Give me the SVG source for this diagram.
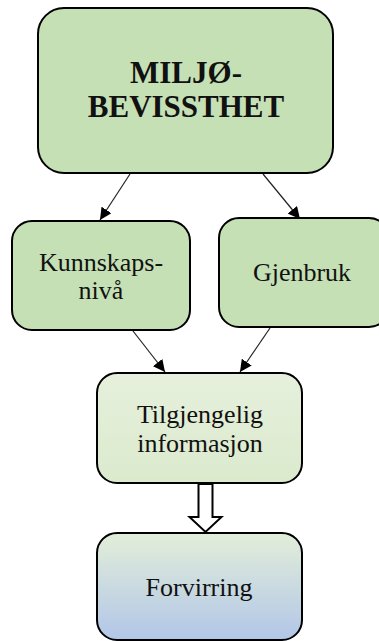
<svg xmlns="http://www.w3.org/2000/svg" width="379" height="641" viewBox="0 0 379 641">
<style>
.box{stroke:#000;stroke-width:2}
.g{fill:#c5e0b4}
.t{font-family:"Liberation Serif","Times New Roman",serif;fill:#111;text-anchor:middle}
.b{font-weight:bold;font-size:31px}
.r{font-size:26px}
.c{stroke:#222;stroke-width:1.2;fill:none;marker-end:url(#ah)}
</style>
<defs>
<marker id="ah" viewBox="0 0 10 10" refX="10" refY="5" markerWidth="12" markerHeight="12" markerUnits="userSpaceOnUse" orient="auto">
<path d="M0,0 L10,5 L0,10 z" fill="#000"/>
</marker>
<linearGradient id="g1" x1="0" y1="0" x2="0" y2="1">
<stop offset="0" stop-color="#e6f0dc"/>
<stop offset="1" stop-color="#dbeacd"/>
</linearGradient>
<linearGradient id="g2" x1="0" y1="0" x2="0" y2="1">
<stop offset="0" stop-color="#e2eed9"/>
<stop offset="1" stop-color="#b2c6e8"/>
</linearGradient>
</defs>
<g id="connectors">
<line class="c" x1="130" y1="174" x2="100" y2="220"/>
<line class="c" x1="263" y1="174" x2="300" y2="219"/>
<line class="c" x1="133" y1="331" x2="165" y2="372"/>
<line class="c" x1="270" y1="328" x2="240" y2="372"/>
<path d="M198.5,484 L212.5,484 L212.5,517 L221.5,517 L205.5,532 L189.5,517 L198.5,517 Z" fill="#fff" stroke="#000" stroke-width="2"/>
</g>
<g id="miljo">
<rect class="box g" x="38" y="8" width="295" height="165" rx="26"/>
<text class="t b" x="186" y="83">MILJØ-</text>
<text class="t b" x="186" y="117">BEVISSTHET</text>
</g>
<g id="kunnskap">
<rect class="box g" x="12" y="221" width="178" height="109" rx="20"/>
<text class="t r" x="101" y="271">Kunnskaps-</text>
<text class="t r" x="101" y="299">nivå</text>
</g>
<g id="gjenbruk">
<rect class="box g" x="219" y="218" width="170" height="109" rx="20"/>
<text class="t r" x="302" y="281">Gjenbruk</text>
</g>
<g id="tilgjengelig">
<rect class="box" fill="url(#g1)" x="97" y="373" width="205" height="110" rx="20"/>
<text class="t r" x="200" y="423">Tilgjengelig</text>
<text class="t r" x="200" y="452">informasjon</text>
</g>
<g id="forvirring">
<rect class="box" fill="url(#g2)" x="97" y="533" width="205" height="107" rx="20"/>
<text class="t r" x="199" y="596">Forvirring</text>
</g>
</svg>
